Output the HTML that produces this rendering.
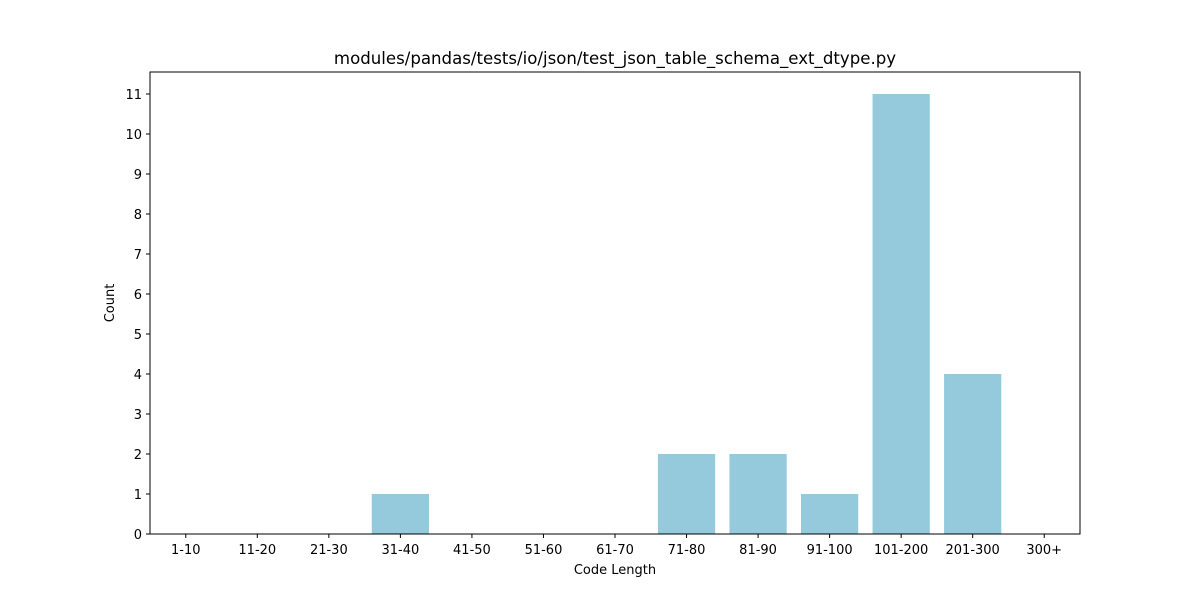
<!DOCTYPE html>
<html><head><meta charset="utf-8"><style>
body{margin:0;background:#fff;}
svg text{font-family:"DejaVu Sans","Liberation Sans",sans-serif;fill:#000;}
</style></head><body>
<svg id="chart" width="1200" height="600">
<rect width="1200" height="600" fill="#fff"/>
<text x="615" y="64" font-size="16.6" text-anchor="middle">modules/pandas/tests/io/json/test_json_table_schema_ext_dtype.py</text>
<g id="bars"></g>
<g id="xticks"></g>
<g id="yticks"></g>
<rect x="150" y="72" width="930" height="462" fill="none" stroke="#000" stroke-width="1"/>
<text x="615" y="574" font-size="13" text-anchor="middle">Code Length</text>
<text transform="translate(114,303) rotate(-90)" font-size="13" text-anchor="middle">Count</text>
</svg>
<script>
const categories=["1-10","11-20","21-30","31-40","41-50","51-60","61-70","71-80","81-90","91-100","101-200","201-300","300+"];
const counts=[0,0,0,1,0,0,0,2,2,1,11,4,0];
const yTicks=[0,1,2,3,4,5,6,7,8,9,10,11];
const L=150,R=1080,T=72,B=534,yMax=11.55;
const NS="http://www.w3.org/2000/svg";
const x=i=>L+(i+0.5)*(R-L)/categories.length;
const y=v=>B-v/yMax*(B-T);
const bw=0.8*(R-L)/categories.length;
const bars=document.getElementById('bars'),xt=document.getElementById('xticks'),yt=document.getElementById('yticks');
categories.forEach((c,i)=>{
 const r=document.createElementNS(NS,'rect');
 r.setAttribute('x',x(i)-bw/2);r.setAttribute('y',y(counts[i]));r.setAttribute('width',bw);r.setAttribute('height',B-y(counts[i]));r.setAttribute('fill','#95c9dc');
 
 
 bars.appendChild(r);
 const l=document.createElementNS(NS,'line');
 l.setAttribute('x1',x(i));l.setAttribute('x2',x(i));l.setAttribute('y1',B);l.setAttribute('y2',B+4);l.setAttribute('stroke','#000');
 xt.appendChild(l);
 const t=document.createElementNS(NS,'text');
 t.setAttribute('x',x(i));t.setAttribute('y',B+20);t.setAttribute('font-size','13');t.setAttribute('text-anchor','middle');t.textContent=c;
 
 
 xt.appendChild(t);
});
yTicks.forEach(v=>{
 const l=document.createElementNS(NS,'line');
 l.setAttribute('x1',L-4);l.setAttribute('x2',L);l.setAttribute('y1',y(v));l.setAttribute('y2',y(v));l.setAttribute('stroke','#000');
 yt.appendChild(l);
 const t=document.createElementNS(NS,'text');
 t.setAttribute('x',L-8);t.setAttribute('y',y(v)+5);t.setAttribute('font-size','13');t.setAttribute('text-anchor','end');t.textContent=v;
 
 
 yt.appendChild(t);
});
</script>
</body></html>
